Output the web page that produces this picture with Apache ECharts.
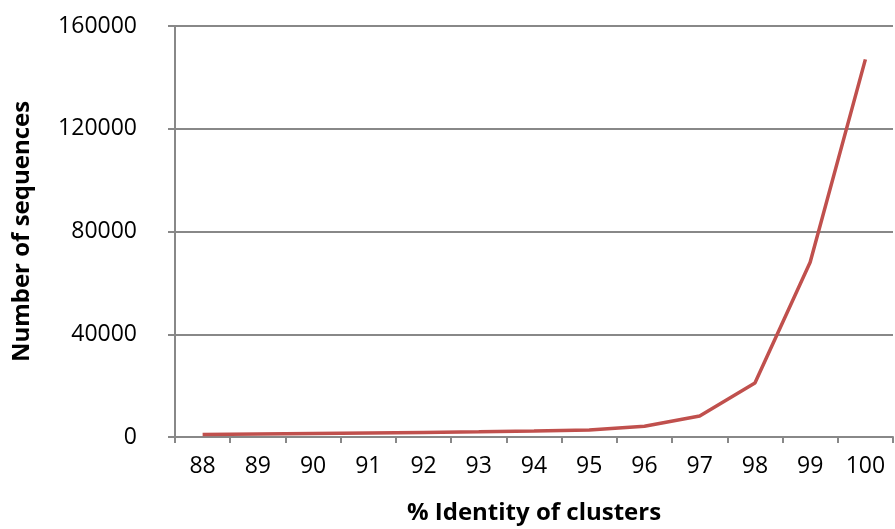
<!DOCTYPE html>
<html>
<head>
<meta charset="utf-8">
<script src="https://cdn.jsdelivr.net/npm/echarts@6/dist/echarts.min.js"></script>
<style>
html, body { margin: 0; padding: 0; background: #fff; }
#main { width: 895px; height: 529px; }
</style>
</head>
<body>
<div id="main"></div>
<script>
var identity = ['88', '89', '90', '91', '92', '93', '94', '95', '96', '97', '98', '99', '100'];
var sequences = [1000, 1200, 1400, 1600, 1800, 2000, 2300, 2700, 4200, 8200, 21000, 68000, 147000];
var yTicks = [0, 40000, 80000, 120000, 160000];

var chart = echarts.init(document.getElementById('main'));
var font = 'Open Sans';
var option = {
	animation: false,
	grid: { left: 175, right: 2, top: 26, bottom: 92, outerBoundsMode: 'none', containLabel: false },
	xAxis: {
		type: 'category',
		data: identity,
		boundaryGap: true,
		name: '% Identity of clusters',
		nameLocation: 'middle',
		nameGap: 64,
		nameTextStyle: { fontFamily: font, fontSize: 24, fontWeight: 'bold', color: '#000' },
		axisLine: { lineStyle: { color: '#888', width: 2 } },
		axisTick: { show: true, length: 6, lineStyle: { color: '#888', width: 2 } },
		axisLabel: { fontFamily: font, fontSize: 23, color: '#000', margin: 18 }
	},
	yAxis: {
		type: 'value',
		min: yTicks[0],
		max: yTicks[yTicks.length - 1],
		interval: 40000,
		name: 'Number of sequences',
		nameLocation: 'middle',
		nameGap: 141,
		nameTextStyle: { fontFamily: font, fontSize: 24, fontWeight: 'bold', color: '#000' },
		axisLine: { show: true, lineStyle: { color: '#888', width: 2 } },
		axisTick: { show: true, length: 7, lineStyle: { color: '#888', width: 2 } },
		axisLabel: {
			fontFamily: font, fontSize: 23, color: '#000', margin: 38,
			formatter: function (v) { return String(v); }
		},
		splitLine: { lineStyle: { color: '#888', width: 2 } }
	},
	series: [{
		type: 'line',
		data: sequences,
		symbol: 'none',
		lineStyle: { color: '#C0504D', width: 3.5 }
	}]
};
chart.setOption(option);
</script>
</body>
</html>
